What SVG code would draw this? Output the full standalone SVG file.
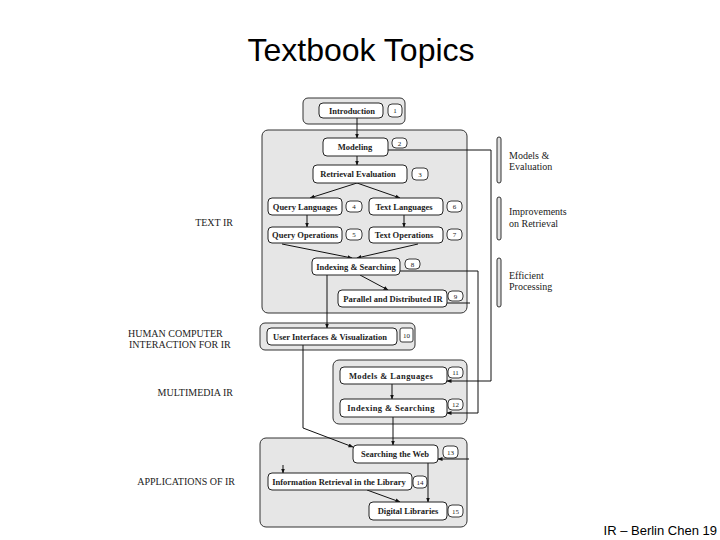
<svg xmlns="http://www.w3.org/2000/svg" width="720" height="540" viewBox="0 0 720 540">
<defs>
<marker id="ah" viewBox="0 0 10 10" refX="9" refY="5" markerWidth="5" markerHeight="5" orient="auto" markerUnits="userSpaceOnUse">
<path d="M0,1 L10,5 L0,9 z" fill="#111"/>
</marker>
<style>
.grp{fill:#e6e6e6;stroke:#333;stroke-width:1}
.box{fill:#fff;stroke:#222;stroke-width:1}
.badge{fill:#fff;stroke:#222;stroke-width:0.9}
.lbl{font-family:"Liberation Serif",serif;font-weight:bold;font-size:8.5px;fill:#222;text-anchor:middle}
.num{font-family:"Liberation Serif",serif;font-size:7px;fill:#222;text-anchor:middle}
.side{font-family:"Liberation Serif",serif;font-size:10px;fill:#222}
.br{fill:#e0e0e0;stroke:#333;stroke-width:1}
.c{fill:none;stroke:#111;stroke-width:1}
.ca{fill:none;stroke:#111;stroke-width:1;marker-end:url(#ah)}
</style>
</defs>
<rect width="720" height="540" fill="#fff"/>
<text x="361" y="61" font-family="Liberation Sans,Arial,sans-serif" font-size="32" text-anchor="middle" fill="#000">Textbook Topics</text>
<text x="717" y="535" font-family="Liberation Sans,Arial,sans-serif" font-size="13" text-anchor="end" fill="#000">IR – Berlin Chen 19</text>

<g id="groups">
<rect class="grp" x="303" y="98" width="102" height="26" rx="5"/>
<rect class="grp" x="262" y="130" width="205" height="183" rx="6"/>
<rect class="grp" x="260" y="323" width="155" height="27" rx="5"/>
<rect class="grp" x="333" y="360" width="134" height="64" rx="6"/>
<rect class="grp" x="260" y="438" width="207" height="89" rx="6"/>
</g>

<g id="side-labels">
<text class="side" x="233" y="226" text-anchor="end">TEXT IR</text>
<text class="side" x="128" y="337">HUMAN COMPUTER</text>
<text class="side" x="129" y="348">INTERACTION FOR IR</text>
<text class="side" x="233" y="396" text-anchor="end">MULTIMEDIA IR</text>
<text class="side" x="235" y="485" text-anchor="end">APPLICATIONS OF IR</text>
</g>

<g id="brackets">
<rect class="br" x="497" y="137" width="4" height="46" rx="2"/>
<rect class="br" x="497" y="197" width="4" height="43" rx="2"/>
<rect class="br" x="497" y="258" width="4" height="49" rx="2"/>
<text class="side" x="509" y="159">Models &amp;</text>
<text class="side" x="509" y="170">Evaluation</text>
<text class="side" x="509" y="215">Improvements</text>
<text class="side" x="509" y="227">on Retrieval</text>
<text class="side" x="509" y="279">Efficient</text>
<text class="side" x="509" y="290">Processing</text>
</g>

<g id="connectors">
<line class="ca" x1="357" y1="118" x2="357" y2="138"/>
<line class="ca" x1="357" y1="156" x2="357" y2="165"/>
<line class="ca" x1="357" y1="183" x2="310" y2="198"/>
<line class="ca" x1="357" y1="183" x2="400" y2="198"/>
<line class="ca" x1="307" y1="215" x2="307" y2="227"/>
<line class="ca" x1="404" y1="215" x2="404" y2="227"/>
<line class="ca" x1="282" y1="244" x2="352" y2="258"/>
<line class="ca" x1="418" y1="244" x2="357" y2="258"/>
<line class="ca" x1="360" y1="275" x2="388" y2="290"/>
<line class="ca" x1="327" y1="275" x2="327" y2="328"/>
<polyline class="ca" points="388,150 491,150 491,381 447,381"/>
<polyline class="ca" points="400,271 478,271 478,413 447,413"/>
<line class="c" x1="447" y1="303" x2="470" y2="303"/>
<line class="ca" x1="392" y1="384" x2="392" y2="399"/>
<line class="ca" x1="393" y1="417" x2="393" y2="445"/>
<polyline class="ca" points="303,345 303,428 353,447"/>
<line class="ca" x1="469" y1="459" x2="438" y2="459"/>
<line class="ca" x1="428" y1="463" x2="428" y2="502"/>
<line class="ca" x1="367" y1="490" x2="400" y2="502"/>
<line class="ca" x1="283" y1="465" x2="283" y2="473"/>
</g>

<g id="n1"><rect class="box" x="319" y="103" width="64" height="15" rx="4"/><text class="lbl" x="352" y="113.5">Introduction</text><rect class="badge" x="388" y="104" width="14" height="13" rx="4"/><text class="num" x="395" y="113">1</text></g>
<g id="n2"><rect class="box" x="323" y="138" width="65" height="18" rx="4"/><text class="lbl" x="355" y="150">Modeling</text><rect class="badge" x="392" y="138" width="15" height="10" rx="4"/><text class="num" x="399.5" y="145.5">2</text></g>
<g id="n3"><rect class="box" x="313" y="165" width="94" height="18" rx="4"/><text class="lbl" x="358" y="177">Retrieval  Evaluation</text><rect class="badge" x="412" y="168" width="16" height="12" rx="4"/><text class="num" x="420" y="176.5">3</text></g>
<g id="n4"><rect class="box" x="268" y="198" width="74" height="17" rx="4"/><text class="lbl" x="305" y="209.5">Query Languages</text><rect class="badge" x="346" y="201" width="16" height="11" rx="4"/><text class="num" x="354" y="209">4</text></g>
<g id="n6"><rect class="box" x="369" y="198" width="74" height="17" rx="4"/><text class="lbl" x="404" y="209.5">Text Languages</text><rect class="badge" x="447" y="201" width="15" height="11" rx="4"/><text class="num" x="454.5" y="209">6</text></g>
<g id="n5"><rect class="box" x="268" y="227" width="74" height="16" rx="4"/><text class="lbl" x="305" y="238">Query Operations</text><rect class="badge" x="346" y="229" width="16" height="11" rx="4"/><text class="num" x="354" y="237">5</text></g>
<g id="n7"><rect class="box" x="369" y="227" width="74" height="16" rx="4"/><text class="lbl" x="404" y="238">Text Operations</text><rect class="badge" x="447" y="229" width="15" height="11" rx="4"/><text class="num" x="454.5" y="237">7</text></g>
<g id="n8"><rect class="box" x="312" y="258" width="88" height="17" rx="4"/><text class="lbl" x="356" y="269.5">Indexing &amp; Searching</text><rect class="badge" x="405" y="259" width="15" height="10" rx="4"/><text class="num" x="412.5" y="266.5">8</text></g>
<g id="n9"><rect class="box" x="338" y="290" width="109" height="17" rx="4"/><text class="lbl" x="393" y="301.5">Parallel and Distributed IR</text><rect class="badge" x="448" y="291" width="15" height="10" rx="4"/><text class="num" x="455.5" y="298.5">9</text></g>
<g id="n10"><rect class="box" x="267" y="328" width="130" height="17" rx="4"/><text class="lbl" x="330" y="339.5" font-size="8">User Interfaces &amp; Visualization</text><rect class="badge" x="400" y="328" width="13" height="14" rx="2"/><text class="num" x="406.5" y="337.5">10</text></g>
<g id="n11"><rect class="box" x="340" y="367" width="107" height="17" rx="4"/><text class="lbl" x="391" y="378.5" letter-spacing="0.4">Models &amp; Languages</text><rect class="badge" x="448" y="367" width="15" height="11" rx="4"/><text class="num" x="455.5" y="375">11</text></g>
<g id="n12"><rect class="box" x="340" y="399" width="107" height="18" rx="4"/><text class="lbl" x="391" y="411" letter-spacing="0.4">Indexing &amp; Searching</text><rect class="badge" x="448" y="399" width="15" height="11" rx="4"/><text class="num" x="455.5" y="407">12</text></g>
<g id="n13"><rect class="box" x="353" y="445" width="85" height="18" rx="4"/><text class="lbl" x="395" y="457">Searching the Web</text><rect class="badge" x="443" y="446" width="15" height="12" rx="4"/><text class="num" x="450.5" y="454.5">13</text></g>
<g id="n14"><rect class="box" x="268" y="473" width="144" height="17" rx="4"/><text class="lbl" x="339" y="484.5">Information Retrieval in the Library</text><rect class="badge" x="413" y="476" width="14" height="12" rx="4"/><text class="num" x="420" y="484.5">14</text></g>
<g id="n15"><rect class="box" x="369" y="502" width="78" height="18" rx="4"/><text class="lbl" x="408" y="514">Digital  Libraries</text><rect class="badge" x="448" y="505" width="15" height="12" rx="4"/><text class="num" x="455.5" y="513.5">15</text></g>
</svg>
